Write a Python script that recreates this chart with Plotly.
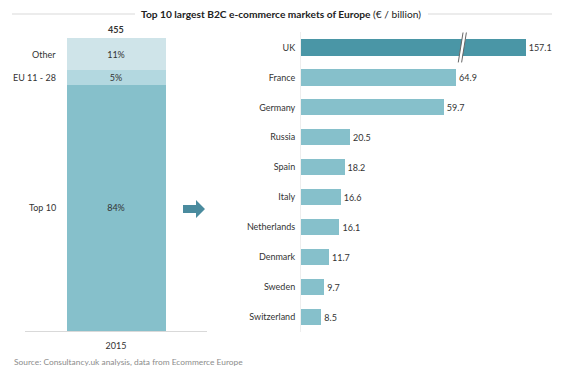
import plotly.graph_objects as go

# ---------------- data ----------------
share_labels = ["Top 10", "EU 11 - 28", "Other"]
share_values = [84, 5, 11]
total_value = 455
year_label = "2015"

countries = ["UK", "France", "Germany", "Russia", "Spain", "Italy",
             "Netherlands", "Denmark", "Sweden", "Switzerland"]
sales = [157.1, 64.9, 59.7, 20.5, 18.2, 16.6, 16.1, 11.7, 9.7, 8.5]

title_bold = "Top 10 largest B2C e-commerce markets of Europe"
title_unit = " (€ / billion)"
source_text = "Source: Consultancy.uk analysis, data from Ecommerce Europe"

# ---------------- style ----------------
OFF = 8                 # page body margin
W, H = 565 - OFF, 372 - OFF
FONT = "Lato"
TXT = "#333333"
FS = 9
share_colors = ["#86C0CB", "#B3D8E0", "#CFE4E9"]
bar_color = "#86C0CB"
top_color = "#4A96A6"
BREAK_AT = 94.0      # displayed length of the broken (largest) bar
BREAK_MARK = 67.5    # position of break marks on the axis


def py(px):
    return 1 - (px - OFF) / H


def pxx(px):
    return (px - OFF) / W


fig = go.Figure()

# left stacked bar
for lab, val, col in zip(share_labels, share_values, share_colors):
    fig.add_trace(go.Bar(
        x=[year_label], y=[val], marker=dict(color=col, line=dict(width=0)),
        width=0.544, text=[f"{val}%"], textposition="inside", constraintext="none",
        insidetextanchor="middle", textfont=dict(family=FONT, size=FS, color=TXT),
        xaxis="x", yaxis="y", showlegend=False, hoverinfo="skip"))

# category labels of stacked bar
cum = 0
for lab, val in zip(share_labels, share_values):
    fig.add_annotation(x=-0.272, y=cum + val / 2, xref="x", yref="y",
                       text=lab, showarrow=False, xanchor="right", xshift=-9,
                       font=dict(family=FONT, size=FS, color=TXT))
    cum += val
fig.add_annotation(x=0, y=cum, xref="x", yref="y", text=f"<b>{total_value}</b>",
                   showarrow=False, yanchor="bottom", yshift=1,
                   font=dict(family=FONT, size=FS, color=TXT))

# right bar chart
disp = [min(v, BREAK_AT) for v in sales]
cols = [top_color if v > BREAK_AT else bar_color for v in sales]
fig.add_trace(go.Bar(
    x=disp, y=countries, orientation="h", customdata=sales,
    texttemplate="%{customdata:.1f}", textposition="outside", cliponaxis=False,
    textfont=dict(family=FONT, size=FS, color=TXT),
    marker=dict(color=cols, line=dict(width=0)),
    xaxis="x2", yaxis="y2", showlegend=False, hoverinfo="skip"))

# break marks on the largest bar
bi = sales.index(max(sales))
fig.add_shape(type="path", xref="x2", yref="y2",
              path=(f"M {BREAK_MARK - 1.6},{bi + 0.42} L {BREAK_MARK - 0.2},{bi + 0.42} "
                    f"L {BREAK_MARK + 1.6},{bi - 0.42} L {BREAK_MARK + 0.2},{bi - 0.42} Z"),
              fillcolor="white", line=dict(width=0))
for off in (-0.7, 0.7):
    fig.add_shape(type="line", xref="x2", yref="y2",
                  x0=BREAK_MARK - 1.0 + off, y0=bi + 0.5,
                  x1=BREAK_MARK + 1.0 + off, y1=bi - 0.5,
                  line=dict(color="#666666", width=1))

# arrow
fig.add_shape(type="path", xref="paper", yref="paper",
              path=(f"M {pxx(183)},{py(205)} L {pxx(196)},{py(205)} L {pxx(196)},{py(200)} "
                    f"L {pxx(205)},{py(209)} L {pxx(196)},{py(218)} L {pxx(196)},{py(213)} "
                    f"L {pxx(183)},{py(213)} Z"),
              fillcolor="#4A8B9E", line=dict(width=0))

# title with lines
fig.add_annotation(x=pxx(281), y=py(14), xref="paper", yref="paper",
                   text=f"<b>{title_bold}</b>{title_unit}", showarrow=False,
                   xanchor="center", yanchor="middle",
                   font=dict(family=FONT, size=10.2, color="#222222"))
fig.add_shape(type="line", xref="paper", yref="paper", x0=pxx(12), x1=pxx(135),
              y0=py(14), y1=py(14), line=dict(color="#D9D9D9", width=1))
fig.add_shape(type="line", xref="paper", yref="paper", x0=pxx(428), x1=pxx(552),
              y0=py(14), y1=py(14), line=dict(color="#D9D9D9", width=1))

# source
fig.add_annotation(x=pxx(12), y=py(362), xref="paper", yref="paper",
                   text=source_text, showarrow=False, xanchor="left", yanchor="middle",
                   font=dict(family=FONT, size=8.4, color="#8C8C8C"))

fig.update_layout(
    width=W, height=H, margin=dict(l=0, r=0, t=0, b=0),
    paper_bgcolor="white", plot_bgcolor="white",
    barmode="stack", bargap=0.46,
    font=dict(family=FONT, size=FS, color=TXT),
    xaxis=dict(domain=[pxx(25), pxx(207)], range=[-0.5, 0.5], type="category",
               showline=True, linecolor="#D9D9D9", linewidth=1, ticks="",
               ticklabelstandoff=6, showgrid=False, zeroline=False,
               tickfont=dict(family=FONT, size=FS, color=TXT)),
    yaxis=dict(domain=[py(331), py(38)], range=[0, 100], visible=False),
    xaxis2=dict(domain=[pxx(301), pxx(545)], range=[0, 244 / 2.39], anchor="y2",
                visible=False),
    yaxis2=dict(domain=[py(332), py(32)], anchor="x2", autorange="reversed",
                showline=True, linecolor="#EEEEEE", ticks="outside", ticklen=3,
                tickcolor="rgba(0,0,0,0)", showgrid=False, zeroline=False,
                tickfont=dict(family=FONT, size=FS, color=TXT)),
)

fig.write_html("out.html")
